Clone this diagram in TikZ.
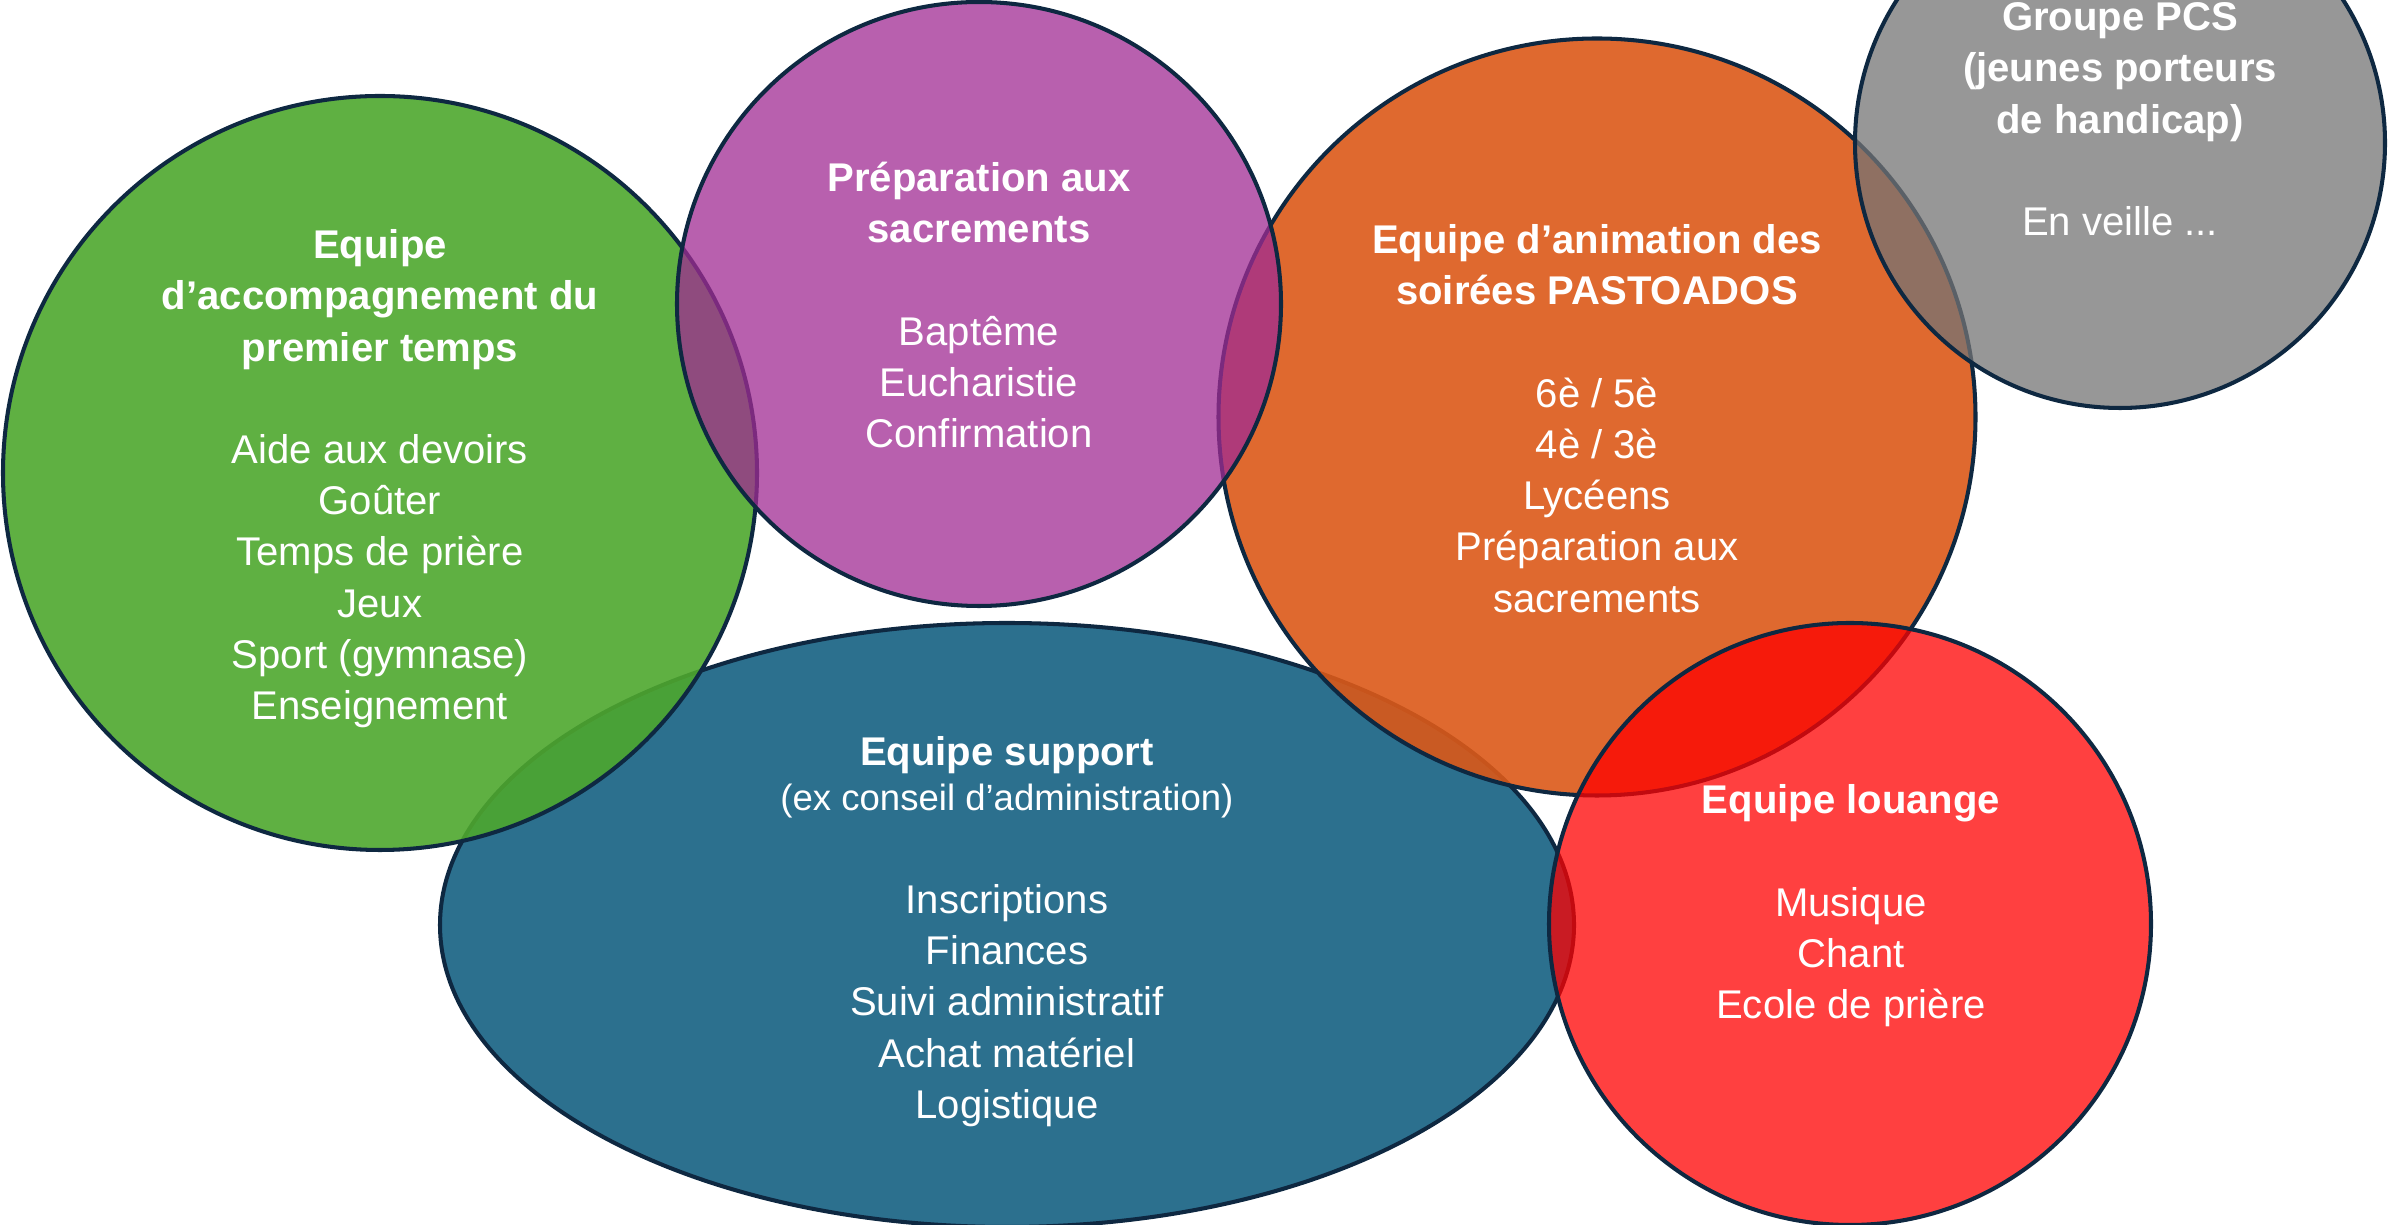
\documentclass[tikz,border=0pt]{standalone}
\usepackage{fontspec}
\setmainfont{Liberation Sans}
\usetikzlibrary{shapes.geometric}
\definecolor{edgecol}{HTML}{0E2841}
\definecolor{cblue}{HTML}{156082}
\definecolor{corange}{HTML}{DC5918}
\definecolor{cgreen}{HTML}{4EA72E}
\definecolor{cpurple}{HTML}{A02B93}
\definecolor{cgray}{HTML}{747474}
\definecolor{cred}{HTML}{FF0000}
\newcommand\tst{\rule{0pt}{0.4cm}}
\tikzset{
  blob/.style={draw=edgecol, line width=1.15pt, inner sep=0pt, outer sep=0pt},
  lbl/.style={text=white, align=center, inner sep=0pt, anchor=north,
              font=\fontsize{11.4}{14.57}\selectfont},
}
\begin{document}
\begin{tikzpicture}
\useasboundingbox (0,0) rectangle (23.89,-12.25);
\clip (0,0) rectangle (23.89,-12.25);
% shapes (bottom to top)
\node[blob, ellipse, minimum width=11.34cm, minimum height=6.04cm, fill=cblue, fill opacity=0.9] (support) at (10.07,-9.25) {};
\node[blob, circle, minimum size=7.57cm, fill=corange, fill opacity=0.9] (anim) at (15.97,-4.17) {};
\node[blob, circle, minimum size=7.54cm, fill=cgreen, fill opacity=0.9] (accomp) at (3.80,-4.73) {};
\node[blob, circle, minimum size=6.04cm, fill=cpurple, fill opacity=0.75] (prep) at (9.79,-3.04) {};
\node[blob, circle, minimum size=5.30cm, fill=cgray, fill opacity=0.75] (pcs) at (21.20,-1.43) {};
\node[blob, circle, minimum size=6.02cm, fill=cred, fill opacity=0.75] (louange) at (18.50,-9.24) {};
% texts
\node[lbl] (taccomp) at (3.80,-2.18) {\tst\textbf{Equipe}\\
  \textbf{d’accompagnement du}\\ \textbf{premier temps}\\[14.57pt]
  Aide aux devoirs\\ Goûter\\ Temps de prière\\ Jeux\\ Sport (gymnase)\\ Enseignement};
\node[lbl] (tprep) at (9.79,-1.51) {\tst\textbf{Préparation aux}\\ \textbf{sacrements}\\[14.57pt]
  Baptême\\ Eucharistie\\ Confirmation};
\node[lbl] (tanim) at (15.97,-2.13) {\tst\textbf{Equipe d’animation des}\\ \textbf{soirées PASTOADOS}\\[14.57pt]
  6è / 5è\\ 4è / 3è\\ Lycéens\\ Préparation aux\\ sacrements};
\node[lbl] (tpcs) at (21.20,0.10) {\tst\textbf{Groupe PCS}\\ \textbf{(jeunes porteurs}\\ \textbf{de handicap)}\\[14.57pt]
  En veille ...};
\node[lbl] (tlouange) at (18.51,-7.73) {\tst\textbf{Equipe louange}\\[14.57pt]
  Musique\\ Chant\\ Ecole de prière};
\node[lbl] (tsupport) at (10.07,-7.25) {\tst\textbf{Equipe support}\\[-1.8pt]
  {\fontsize{10.4}{13}\selectfont (ex conseil d’administration)}\\[14.7pt]
  Inscriptions\\ Finances\\ Suivi administratif\\ Achat matériel\\ Logistique};
\end{tikzpicture}
\end{document}
